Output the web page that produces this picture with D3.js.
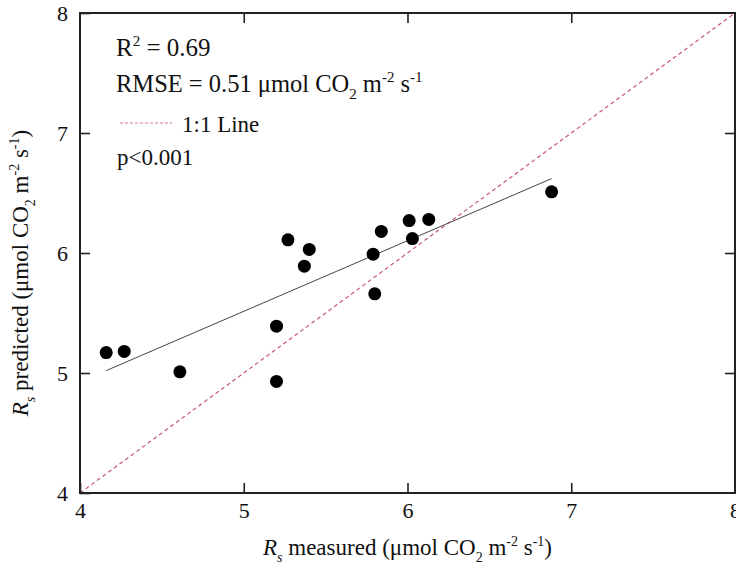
<!DOCTYPE html>
<html><head><meta charset="utf-8">
<script src="https://cdn.jsdelivr.net/npm/d3@7"></script>
<style>
body{margin:0;background:#fff}
svg{display:block;font-family:"Liberation Serif","Times New Roman",serif}
</style>
</head><body>
<svg id="c" width="736" height="568"></svg>
<script>
// ---- data ----
const measured  = [4.16, 4.27, 4.61, 5.20, 5.20, 5.27, 5.40, 5.37, 5.79, 5.80, 5.84, 6.01, 6.03, 6.13, 6.88];
const predicted = [5.17, 5.18, 5.01, 5.39, 4.93, 6.11, 6.03, 5.89, 5.99, 5.66, 6.18, 6.27, 6.12, 6.28, 6.51];
const fitX = [4.16, 6.88];
const fitY = [5.02, 6.62];
const oneToOne = [4, 8];
const xTicks = [4, 5, 6, 7, 8];
const yTicks = [4, 5, 6, 7, 8];
const r2Text = "0.69";
const rmseText = "0.51";
const pText = "p<0.001";
const legendText = "1:1 Line";

// ---- layout ----
const FONT = '"Liberation Serif","Times New Roman",serif';
const svg = d3.select("#c");
const L = 80, R = 735, T = 13, B = 493;
const x = d3.scaleLinear().domain([4, 8]).range([L, R]);
const y = d3.scaleLinear().domain([4, 8]).range([B, T]);
const axisColor = "#222";
const dashColor = "#c75a6e";

// 1:1 line
svg.append("line")
  .attr("x1", x(oneToOne[0])).attr("y1", y(oneToOne[0]))
  .attr("x2", x(oneToOne[1])).attr("y2", y(oneToOne[1]))
  .attr("stroke", dashColor).attr("stroke-width", 1.2)
  .attr("stroke-dasharray", "4,3");

// regression line
svg.append("line")
  .attr("x1", x(fitX[0])).attr("y1", y(fitY[0]))
  .attr("x2", x(fitX[1])).attr("y2", y(fitY[1]))
  .attr("stroke", "#444").attr("stroke-width", 1);

// points
svg.append("g").selectAll("circle")
  .data(measured.map((m, i) => [m, predicted[i]]))
  .join("circle")
  .attr("cx", d => x(d[0])).attr("cy", d => y(d[1]))
  .attr("r", 6.5).attr("fill", "#000");

// axes
function styleAxis(g) {
  g.attr("font-family", FONT);
  g.select(".domain").remove();
  g.selectAll(".tick line").attr("stroke", axisColor).attr("stroke-width", 1.6);
  g.selectAll(".tick text").attr("fill", "#111").style("font-size", "22px")
    .style("font-family", FONT);
}
svg.append("g").attr("transform", `translate(0,${B})`)
  .call(d3.axisBottom(x).tickValues(xTicks).tickFormat(d3.format("d")).tickSize(-10).tickPadding(9))
  .call(styleAxis);
svg.append("g").attr("transform", `translate(0,${T})`)
  .call(d3.axisTop(x).tickValues(xTicks.slice(1, -1)).tickFormat("").tickSize(-10))
  .call(styleAxis);
svg.append("g").attr("transform", `translate(${L},0)`)
  .call(d3.axisLeft(y).tickValues(yTicks).tickFormat(d3.format("d")).tickSize(-10).tickPadding(12))
  .call(styleAxis);
svg.append("g").attr("transform", `translate(${R},0)`)
  .call(d3.axisRight(y).tickValues(yTicks.slice(1, -1)).tickFormat("").tickSize(-10))
  .call(styleAxis);

// frame
svg.append("rect").attr("x", L).attr("y", T).attr("width", R - L).attr("height", B - T)
  .attr("fill", "none").attr("stroke", axisColor).attr("stroke-width", 2);

// helper for rich text: parts = [text, mode]
function rich(textSel, parts, size) {
  textSel.attr("font-family", FONT);
  const small = Math.round(size * 0.6);
  let cur = 0;
  parts.forEach(([t, mode]) => {
    let target = 0, fs = size, st = "normal";
    if (mode === "sup") { target = -size * 0.4; fs = small; }
    if (mode === "sub") { target = size * 0.3; fs = small; }
    if (mode === "i") { st = "italic"; }
    if (mode === "isub") { target = size * 0.3; fs = small; st = "italic"; }
    textSel.append("tspan").attr("dy", target - cur).style("font-size", fs + "px")
      .style("font-style", st).text(t);
    cur = target;
  });
}

const ink = "#111";
// stats
rich(svg.append("text").attr("x", 116).attr("y", 56).attr("fill", ink),
  [["R", "n"], ["2", "sup"], [" = " + r2Text, "n"]], 25);
rich(svg.append("text").attr("x", 116).attr("y", 92).attr("fill", ink),
  [["RMSE = " + rmseText + " μmol CO", "n"], ["2", "sub"], [" m", "n"], ["-2", "sup"], [" s", "n"], ["-1", "sup"]], 24.5);

// legend
svg.append("line").attr("x1", 120).attr("x2", 172).attr("y1", 123).attr("y2", 123)
  .attr("stroke", dashColor).attr("stroke-width", 1).attr("stroke-dasharray", "3,2").attr("opacity", 0.8);
svg.append("text").attr("x", 182).attr("y", 132).attr("fill", ink).attr("font-family", FONT)
  .style("font-size", "23px").text(legendText);
svg.append("text").attr("x", 117).attr("y", 165).attr("fill", ink).attr("font-family", FONT)
  .style("font-size", "23px").text(pText);

// axis titles
rich(svg.append("text").attr("x", (L + R) / 2).attr("y", 555).attr("text-anchor", "middle").attr("fill", ink),
  [["R", "i"], ["s", "isub"], [" measured (μmol CO", "n"], ["2", "sub"], [" m", "n"], ["-2", "sup"], [" s", "n"], ["-1", "sup"], [")", "n"]], 23);
rich(svg.append("text").attr("transform", "translate(28,273) rotate(-90)").attr("text-anchor", "middle").attr("fill", ink),
  [["R", "i"], ["s", "isub"], [" predicted (μmol CO", "n"], ["2", "sub"], [" m", "n"], ["-2", "sup"], [" s", "n"], ["-1", "sup"], [")", "n"]], 23);
</script>
</body></html>
